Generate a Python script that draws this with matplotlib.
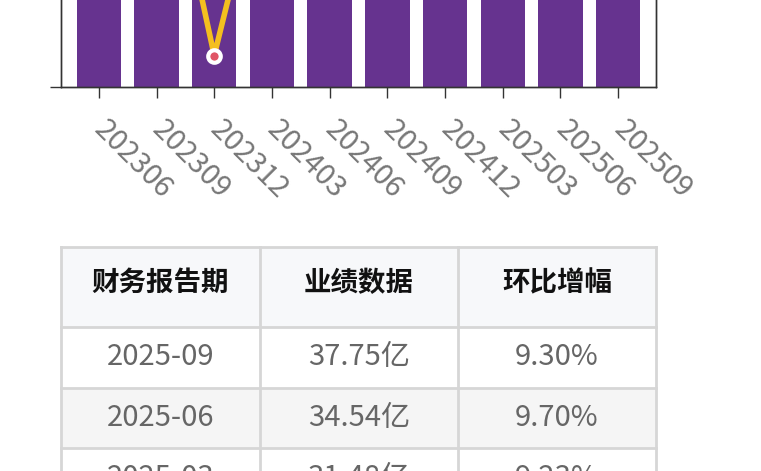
import matplotlib
matplotlib.use("Agg")
import matplotlib.pyplot as plt
from matplotlib.patches import Rectangle

plt.rcParams['font.family'] = ['Noto Sans CJK SC', 'DejaVu Sans']

# ---- data ----
periods_axis = ['202306', '202309', '202312', '202403', '202406',
                '202409', '202412', '202503', '202506', '202509']
revenue = [15.43, 18.46, 12.24, 13.83, 17.59, 22.89, 28.82, 31.48, 34.54, 37.75]
qoq_growth = [5.0, 19.6, -33.7, 13.0, 27.2, 30.1, 25.9, 9.23, 9.70, 9.30]

table_headers = ['财务报告期', '业绩数据', '环比增幅']
table_periods = ['2025-09', '2025-06', '2025-03']
table_values = ['37.75亿', '34.54亿', '31.48亿']
table_growth = ['9.30%', '9.70%', '9.23%']

W, H = 761, 471
fig = plt.figure(figsize=(W / 100, H / 100), dpi=100)
fig.patch.set_facecolor('white')

# ---- chart (upper part cropped off) ----
ax_left, ax_right, ax_bottom, ax_h = 61, 656, 87, 400
ax = fig.add_axes([ax_left / W, (H - ax_bottom) / H, (ax_right - ax_left) / W, ax_h / H])
x = list(range(len(periods_axis)))
ax.bar(x, revenue, width=0.77, color='#66338f', zorder=2)
ax.set_xlim(-0.655, len(x) - 1 + 0.655)
ax.set_ylim(0, 45)
ax.set_xticks(x)
ax.set_xticklabels(periods_axis)
ax.set_yticks([0, 10, 20, 30, 40])
ax.set_yticklabels([])
for s in ax.spines.values():
    s.set_color('#333333')
    s.set_linewidth(1.0)
ax.tick_params(axis='x', length=8, width=1, color='#333333', pad=19.4,
               labelsize=21, labelcolor='#777777')
ax.tick_params(axis='y', length=8, width=1, color='#333333')
for lbl in ax.get_xticklabels():
    lbl.set_rotation(-45)
    lbl.set_ha('left')
    lbl.set_va('center')
    lbl.set_rotation_mode('anchor')

ax2 = ax.twinx()
ax2.plot(x, qoq_growth, color='#f4bf1f', linewidth=4, marker='o', markersize=9,
         markerfacecolor='#e05565', markeredgecolor='white', markeredgewidth=3,
         zorder=3)
ax2.set_ylim(-40, 40)
ax2.set_yticks([])
for s in ax2.spines.values():
    s.set_color('#333333')
    s.set_linewidth(1.0)

# ---- table ----
tax = fig.add_axes([0, 0, 1, 1])
tax.set_xlim(0, W)
tax.set_ylim(H, 0)
tax.axis('off')
tax.patch.set_alpha(0)

col_edges = [61, 259.5, 458, 656]
row_edges = [247, 327.3, 388.3, 448.3, 509]
row_bg = ['#f7f8fa', 'white', '#f5f5f5', 'white']
border = '#d6d6d6'

rows = [table_headers] + [list(r) for r in zip(table_periods, table_values, table_growth)]
for r in range(len(rows)):
    y0, y1 = row_edges[r], row_edges[r + 1]
    tax.add_patch(Rectangle((col_edges[0], y0), col_edges[-1] - col_edges[0], y1 - y0,
                            facecolor=row_bg[r], edgecolor='none', zorder=1))
    for c in range(3):
        cx = (col_edges[c] + col_edges[c + 1]) / 2
        if r == 0:
            tax.text(cx, (y0 + y1) / 2 - 4, rows[r][c], ha='center', va='center',
                     fontsize=19.8, fontweight='bold', color='#111111', zorder=3)
        else:
            tax.text(cx, (y0 + y1) / 2 - 0.5, rows[r][c], ha='center', va='center',
                     fontsize=21, color='#666666', zorder=3)
for ye in row_edges[:-1]:
    tax.plot([col_edges[0], col_edges[-1]], [ye, ye], color=border, linewidth=2, zorder=2,
             solid_capstyle='projecting')
for xe in col_edges:
    tax.plot([xe, xe], [row_edges[0], row_edges[-1]], color=border, linewidth=2, zorder=2,
             solid_capstyle='projecting')

fig.savefig('out.png', dpi=100)
